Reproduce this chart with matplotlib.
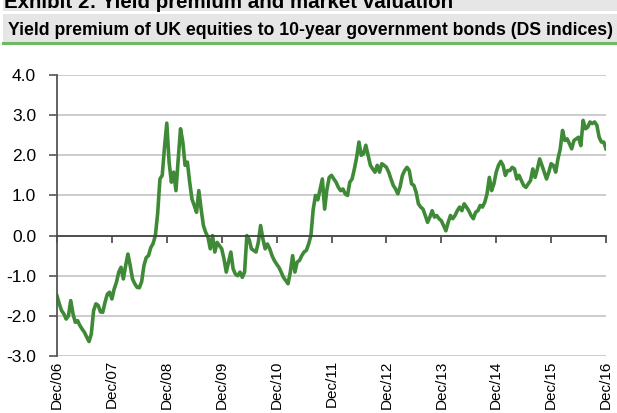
import matplotlib
matplotlib.use('Agg')
import matplotlib.pyplot as plt
import numpy as np
from matplotlib.patches import Rectangle
from matplotlib.lines import Line2D

plt.rcParams['font.family'] = ['Liberation Sans', 'DejaVu Sans']

# yield premium, every half month from Dec/06 to Dec/16
premium = [
    -1.50, -1.70, -1.87, -1.95, -2.08, -2.00, -1.62, -1.95, -2.16, -2.12,
    -2.24, -2.33, -2.41, -2.53, -2.64, -2.45, -1.87, -1.70, -1.74, -1.90,
    -1.91, -1.66, -1.46, -1.41, -1.58, -1.33, -1.16, -0.91, -0.79, -1.08,
    -0.75, -0.46, -0.75, -1.08, -1.20, -1.29, -1.30, -1.15, -0.75, -0.55,
    -0.50, -0.30, -0.20, 0.00, 0.55, 1.41, 1.50, 2.20, 2.80, 1.83,
    1.33, 1.58, 1.12, 1.91, 2.66, 2.33, 1.75, 1.83, 1.33, 0.91,
    0.75, 0.58, 1.12, 0.66, 0.25, 0.08, -0.04, -0.33, 0.00, -0.41,
    -0.17, -0.25, -0.33, -0.58, -0.91, -0.66, -0.41, -0.83, -0.96, -1.00,
    -0.91, -1.04, -0.91, 0.00, -0.10, -0.33, -0.37, -0.41, -0.17, 0.25,
    -0.08, -0.33, -0.21, -0.33, -0.50, -0.62, -0.71, -0.79, -0.91, -1.04,
    -1.12, -1.20, -0.91, -0.50, -0.91, -0.66, -0.62, -0.50, -0.41, -0.37,
    -0.21, 0.00, 0.65, 1.00, 0.89, 1.15, 1.41, 0.66, 1.15, 1.45,
    1.50, 1.41, 1.33, 1.20, 1.12, 1.16, 1.04, 1.00, 1.33, 1.41,
    1.66, 1.95, 2.33, 2.00, 2.04, 2.25, 2.00, 1.75, 1.66, 1.58,
    1.75, 1.58, 1.79, 1.75, 1.70, 1.58, 1.41, 1.25, 1.16, 1.04,
    1.22, 1.50, 1.62, 1.70, 1.62, 1.29, 1.25, 1.08, 0.79, 0.71,
    0.66, 0.50, 0.33, 0.46, 0.62, 0.46, 0.50, 0.42, 0.37, 0.25,
    0.12, 0.33, 0.50, 0.42, 0.50, 0.62, 0.71, 0.62, 0.79, 0.71,
    0.62, 0.50, 0.42, 0.58, 0.62, 0.75, 0.71, 0.83, 1.04, 1.45,
    1.12, 1.29, 1.58, 1.75, 1.85, 1.75, 1.50, 1.62, 1.62, 1.70,
    1.66, 1.41, 1.50, 1.37, 1.25, 1.20, 1.29, 1.37, 1.66, 1.45,
    1.66, 1.91, 1.75, 1.58, 1.41, 1.58, 1.79, 1.75, 1.58, 1.91,
    2.16, 2.62, 2.37, 2.41, 2.29, 2.16, 2.37, 2.41, 2.45, 2.24,
    2.87, 2.66, 2.70, 2.83, 2.79, 2.83, 2.75, 2.45, 2.33, 2.33,
    2.16,
]
months = np.arange(len(premium)) * 0.5

tick_months = [0, 12, 24, 36, 48, 60, 72, 84, 96, 108, 120]
tick_labels = ['Dec/06', 'Dec/07', 'Dec/08', 'Dec/09', 'Dec/10', 'Dec/11',
               'Dec/12', 'Dec/13', 'Dec/14', 'Dec/15', 'Dec/16']
y_ticks = [-3, -2, -1, 0, 1, 2, 3, 4]

W, H = 617, 413
fig = plt.figure(figsize=(W / 100, H / 100), dpi=100)

# header bands
fig.patches.append(Rectangle((3 / W, 1 - 11 / H), 1, 11 / H, transform=fig.transFigure,
                             facecolor='#e6e6e6', edgecolor='none'))
fig.patches.append(Rectangle((3 / W, 1 - 42 / H), 1, 28 / H, transform=fig.transFigure,
                             facecolor='#e6e6e6', edgecolor='none'))
fig.lines.append(Line2D([3 / W, 1], [1 - 43 / H, 1 - 43 / H], transform=fig.transFigure,
                        color='#6cbb5f', lw=2.2))
fig.text(4 / W, 1 - 8 / H, 'Exhibit 2: Yield premium and market valuation',
         fontsize=14.8, fontweight='bold', va='baseline', ha='left')
fig.text(8 / W, 1 - 35 / H,
         'Yield premium of UK equities to 10-year government bonds (DS indices)',
         fontsize=12.7, fontweight='bold', va='baseline', ha='left')

ax = fig.add_axes([57 / W, 1 - 356 / H, (606 - 57) / W, (356 - 75) / H])
ax.plot(months, premium, color='#3f8a37', lw=2.6, solid_joinstyle='round')

ax.set_xlim(0, 120)
ax.set_ylim(-3, 4)
ax.set_yticks(y_ticks)
ax.set_yticklabels(['%.1f' % v for v in y_ticks], fontsize=12.5)
ax.grid(axis='y', color='#c4c4c4', lw=1.2)
ax.set_axisbelow(True)

for s in ['top', 'right']:
    ax.spines[s].set_visible(False)
ax.spines['left'].set_color('#555555')
ax.spines['left'].set_linewidth(1.3)
ax.tick_params(axis='y', direction='out', length=6, width=1.2, color='#555555', pad=9)

# x ticks sit on the zero line
ax.spines['bottom'].set_position(('data', 0))
ax.spines['bottom'].set_color('#444444')
ax.spines['bottom'].set_linewidth(1.3)
ax.set_xticks(tick_months)
ax.tick_params(axis='x', direction='out', length=5, width=1.2, color='#444444',
               labelbottom=False)

sec = ax.secondary_xaxis(0.0)
sec.set_xticks(tick_months)
sec.set_xticklabels(tick_labels, rotation=90, fontsize=11)
sec.tick_params(length=0, pad=3)
sec.spines['bottom'].set_visible(False)

fig.savefig('out.png', dpi=100)
